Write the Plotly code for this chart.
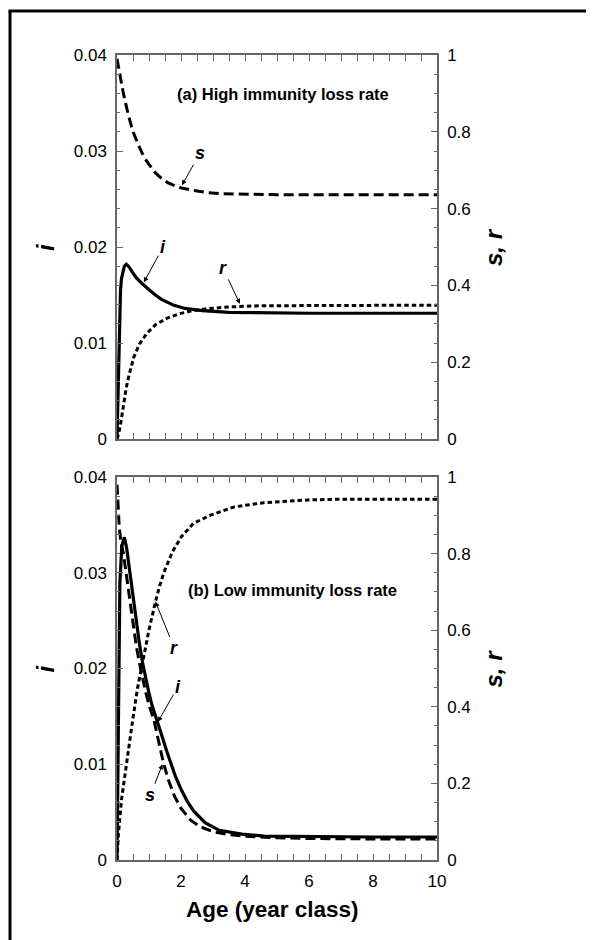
import plotly.graph_objects as go

# ---------------- data ----------------
# Panel (a): high immunity loss rate
s_a_x = [0, 0.1, 0.2, 0.35, 0.5, 0.7, 0.85, 1.0, 1.2, 1.4, 1.6, 1.8, 2.0, 2.4, 2.8, 3.2, 3.6, 4.0, 5, 6, 8, 10]
s_a = [0.99, 0.94, 0.90, 0.845, 0.80, 0.76, 0.733, 0.715, 0.693, 0.678, 0.667, 0.66, 0.654, 0.647, 0.642,
       0.639, 0.638, 0.637, 0.636, 0.636, 0.636, 0.636]

i_a_x = [0, 0.02, 0.036, 0.063, 0.09, 0.11, 0.14, 0.18, 0.23, 0.29, 0.36, 0.475, 0.6, 0.75, 0.9, 1.02,
         1.2, 1.39, 1.6, 1.76, 2.12, 2.67, 3.5, 4.87, 6, 8, 10]
i_a = [0, 0.0028, 0.0057, 0.0109, 0.0138, 0.0155, 0.0167, 0.0175, 0.0180, 0.0182, 0.0180, 0.0174, 0.0168,
       0.0163, 0.0158, 0.0155, 0.0150, 0.01455, 0.0142, 0.01395, 0.0136, 0.01338, 0.0132, 0.01313,
       0.0131, 0.0131, 0.0131]

r_a_x = [0, 0.05, 0.11, 0.2, 0.29, 0.385, 0.52, 0.7, 0.93, 1.21, 1.57, 1.94, 2.3, 2.8, 3.5, 4.5, 6, 8, 10]
r_a = [0, 0.012, 0.038, 0.09, 0.134, 0.169, 0.212, 0.247, 0.275, 0.298, 0.315, 0.326, 0.333, 0.339,
       0.344, 0.347, 0.348, 0.348, 0.348]

# Panel (b): low immunity loss rate
s_b_x = [0, 0.03, 0.07, 0.12, 0.2, 0.3, 0.4, 0.5, 0.6, 0.7, 0.8, 0.9, 1.0, 1.17, 1.3, 1.44, 1.6, 1.8,
         2.0, 2.3, 2.6, 3.0, 3.5, 4.0, 5, 6, 8, 10]
s_b = [0.98, 0.93, 0.87, 0.83, 0.80, 0.74, 0.675, 0.615, 0.56, 0.515, 0.475, 0.437, 0.405, 0.36, 0.31,
       0.258, 0.21, 0.166, 0.135, 0.104, 0.087, 0.074, 0.066, 0.062, 0.058, 0.056, 0.055, 0.055]

i_b_x = [0, 0.03, 0.055, 0.09, 0.15, 0.23, 0.3, 0.4, 0.5, 0.6, 0.7, 0.8, 0.9, 1.0, 1.1, 1.2, 1.28, 1.4,
         1.56, 1.7, 1.83, 2.0, 2.2, 2.4, 2.75, 3.2, 3.9, 4.6, 6, 8, 10]
i_b = [0, 0.0097, 0.0202, 0.0289, 0.0328, 0.0337, 0.0326, 0.0300, 0.0272, 0.0248, 0.0226, 0.0206,
       0.0189, 0.0174, 0.0161, 0.0151, 0.0144, 0.0130, 0.0113, 0.0099, 0.0087, 0.0074, 0.0061, 0.0051,
       0.0039, 0.0031, 0.0027, 0.0025, 0.00244, 0.0024, 0.0024]

r_b_x = [0, 0.046, 0.14, 0.275, 0.46, 0.64, 0.83, 1.01, 1.19, 1.33, 1.47, 1.74, 2.02, 2.39, 2.94, 3.67,
         4.59, 5.96, 7, 8, 10]
r_b = [0, 0.07, 0.157, 0.244, 0.348, 0.448, 0.53, 0.605, 0.67, 0.715, 0.752, 0.806, 0.845, 0.879, 0.901,
       0.922, 0.933, 0.94, 0.942, 0.942, 0.942]

x_ticks = [0, 2, 4, 6, 8, 10]
panel_labels = ["(a) High immunity loss rate", "(b) Low immunity loss rate"]

# ---------------- figure ----------------
FONT = "Liberation Sans, Arial, sans-serif"
AX = "#666666"
W, H = 594, 940
OFF = 8  # page body margin that shifts the figure in the browser
# plot box as it should appear on the page
X0, X1, Y0, Y1 = 117, 437, 55, 860
L, T = X0 - OFF, Y0 - OFF
R, B = W - (X1 - OFF), H - (Y1 - OFF)
PW, PH = W - L - R, H - T - B


def px(xp):  # page x -> paper x
    return (xp - OFF - L) / PW


def py(yp):  # page y -> paper y
    return (H - B - (yp - OFF)) / PH


fig = go.Figure()

s_style = dict(color="black", width=3, dash="10px,5px")
r_style = dict(color="black", width=3, dash="4.5px,3px")
i_style = dict(color="black", width=3.2)

fig.add_trace(go.Scatter(x=s_a_x, y=s_a, mode="lines", line=s_style, xaxis="x", yaxis="y2"))
fig.add_trace(go.Scatter(x=r_a_x, y=r_a, mode="lines", line=r_style, xaxis="x", yaxis="y2"))
fig.add_trace(go.Scatter(x=i_a_x, y=i_a, mode="lines", line=i_style, xaxis="x", yaxis="y"))

fig.add_trace(go.Scatter(x=s_b_x, y=s_b, mode="lines", line=s_style, xaxis="x2", yaxis="y4"))
fig.add_trace(go.Scatter(x=r_b_x, y=r_b, mode="lines", line=r_style, xaxis="x2", yaxis="y4"))
fig.add_trace(go.Scatter(x=i_b_x, y=i_b, mode="lines", line=i_style, xaxis="x2", yaxis="y3"))

tickfont = dict(family=FONT, size=17, color="black")
common = dict(showline=True, linecolor=AX, linewidth=1.5, showgrid=False, zeroline=False,
              ticks="inside", ticklen=6, tickwidth=1.2, tickcolor=AX, tickfont=tickfont,
              ticklabelstandoff=5)


def minor(d):
    return dict(ticks="inside", ticklen=3.5, dtick=d, tickcolor=AX, tickwidth=1)


top_dom = [py(439), 1]
bot_dom = [0, py(477)]

fig.update_layout(
    width=W, height=H,
    margin=dict(l=L, r=R, t=T, b=B),
    paper_bgcolor="white", plot_bgcolor="white",
    showlegend=False,
    xaxis=dict(domain=[0, 1], anchor="y", range=[0, 10], dtick=2, mirror="allticks",
               showticklabels=False, minor=minor(0.5), **common),
    xaxis2=dict(domain=[0, 1], anchor="y3", range=[0, 10], tickvals=x_ticks, mirror="allticks",
                minor=minor(0.5), **common),
    yaxis=dict(domain=top_dom, anchor="x", range=[0, 0.04], dtick=0.01, minor=minor(0.002), **common),
    yaxis2=dict(overlaying="y", side="right", anchor="x", range=[0, 1], dtick=0.2, minor=minor(0.05),
                **common),
    yaxis3=dict(domain=bot_dom, anchor="x2", range=[0, 0.04], dtick=0.01, minor=minor(0.002), **common),
    yaxis4=dict(overlaying="y3", side="right", anchor="x2", range=[0, 1], dtick=0.2, minor=minor(0.05),
                **common),
)

ann = []
# axis titles
for yc in (247, 668.5):
    ann.append(dict(text="<b><i>i</i></b>", x=px(45), y=py(yc), xref="paper", yref="paper",
                    showarrow=False, textangle=-90, font=dict(family=FONT, size=24, color="black"),
                    xanchor="center", yanchor="middle"))
    ann.append(dict(text="<b><i>s, r</i></b>", x=px(493), y=py(yc), xref="paper", yref="paper",
                    showarrow=False, textangle=-90, font=dict(family=FONT, size=24, color="black"),
                    xanchor="center", yanchor="middle"))
ann.append(dict(text="<b>Age (year class)</b>", x=px(184), y=py(910), xref="paper", yref="paper",
                showarrow=False, font=dict(family=FONT, size=22.5, color="black"),
                xanchor="left", yanchor="middle"))
# panel labels
ann.append(dict(text="<b>" + panel_labels[0] + "</b>", x=px(175), y=py(94), xref="paper", yref="paper",
                showarrow=False, font=dict(family=FONT, size=16.5, color="black"),
                xanchor="left", yanchor="middle"))
ann.append(dict(text="<b>" + panel_labels[1] + "</b>", x=px(186), y=py(590), xref="paper", yref="paper",
                showarrow=False, font=dict(family=FONT, size=16.5, color="black"),
                xanchor="left", yanchor="middle"))

# curve labels with arrows (head at curve, text offset in pixels)
arrows = [
    ("s", 2.03, 0.661, 18, -32, "x", "y2"),
    ("i", 0.84, 0.408, 19, -35, "x", "y2"),
    ("r", 3.84, 0.352, -17, -36, "x", "y2"),
    ("r", 1.2, 0.675, 19, 47, "x2", "y4"),
    ("i", 1.28, 0.361, 20, -35, "x2", "y4"),
    ("s", 1.42, 0.25, -12, 31, "x2", "y4"),
]
for t, x, y, ax, ay, xr, yr in arrows:
    ann.append(dict(text="<b><i>" + t + "</i></b>", x=x, y=y, xref=xr, yref=yr, ax=ax, ay=ay,
                    showarrow=True, arrowhead=2, arrowsize=1, arrowwidth=1, arrowcolor="black",
                    font=dict(family=FONT, size=18, color="black")))
fig.update_layout(annotations=ann)

# outer frame (left and top edges visible)
fig.add_shape(type="line", xref="paper", yref="paper", x0=px(10), x1=px(10), y0=py(11), y1=py(990),
              line=dict(color="black", width=3))
fig.add_shape(type="line", xref="paper", yref="paper", x0=px(8.5), x1=px(640), y0=py(11), y1=py(11),
              line=dict(color="black", width=3))

fig.write_html("out.html")
